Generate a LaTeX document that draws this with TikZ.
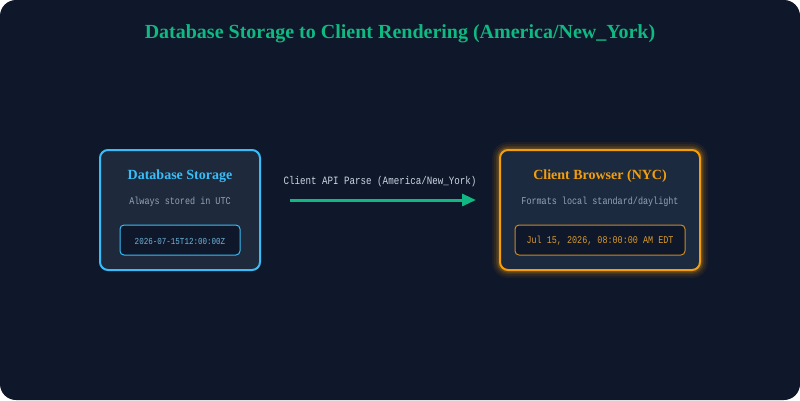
\documentclass[tikz,border=0pt]{standalone}
\usepackage{fontspec}
\setmainfont{Liberation Serif}
\newfontfamily\monof[FakeStretch=0.82]{Liberation Mono}
\usetikzlibrary{arrows.meta}
\definecolor{bgc}{HTML}{0F172A}
\definecolor{cardc}{HTML}{1E293B}
\definecolor{cardr}{HTML}{1C2A3F}
\definecolor{bluec}{HTML}{38BDF8}
\definecolor{orangec}{HTML}{F59E0B}
\definecolor{greenc}{HTML}{10B981}
\definecolor{grayc}{HTML}{94A3B8}
\definecolor{lightc}{HTML}{CBD5E1}
\definecolor{bluetxt}{HTML}{6FB6DC}
\definecolor{ambertxt}{HTML}{D99A2B}
\definecolor{amberbd}{HTML}{C98A24}
\tikzset{
  card/.style={draw, line width=2pt, rounded corners=8pt, inner sep=0pt},
  innerbox/.style={draw, line width=1pt, rounded corners=4pt, fill=bgc, inner sep=0pt, minimum height=30pt},
  cardtitle/.style={font=\fontsize{14}{16}\selectfont\bfseries, inner sep=0pt},
  monotxt/.style={font=\monof\fontsize{10.3}{12}\selectfont, text=grayc, inner sep=0pt},
  flow/.style={draw=greenc, line width=3pt, -{Triangle[length=14pt,width=12pt]}}
}
\begin{document}
\begin{tikzpicture}[x=1pt,y=-1pt]
\useasboundingbox (0,0) rectangle (800,400);
\fill[white] (0,0) rectangle (800,400);
\fill[bgc, rounded corners=16pt] (0,0) rectangle (800,400);
\node[font=\fontsize{20}{24}\selectfont\bfseries, text=greenc, inner sep=0pt] (title) at (400,34) {Database Storage to Client Rendering (America/New\_York)};
% left card
\node[card, draw=bluec, fill=cardc, minimum width=160pt, minimum height=120pt] (db) at (180,210) {};
\node[cardtitle, text=bluec] (dbt) at (180,176) {Database Storage};
\node[monotxt] (dbs) at (180,202) {Always stored in UTC};
\node[innerbox, draw=bluec, minimum width=120pt] (dbi) at (180,240) {};
\node[monotxt, text=bluetxt, font=\monof\fontsize{9.2}{11}\selectfont] (dbv) at (180,241) {2026-07-15T12:00:00Z};
% right card glow
\foreach \w/\o in {16/0.06,12/0.08,8/0.12,5/0.18}{
  \draw[orangec, line width=\w pt, opacity=\o, rounded corners=8pt] (500,150) rectangle (700,270);
}
\node[card, draw=orangec, fill=cardr, minimum width=200pt, minimum height=120pt] (cb) at (600,210) {};
\node[cardtitle, text=orangec] (cbt) at (600,176) {Client Browser (NYC)};
\node[monotxt] (cbs) at (600,202) {Formats local standard/daylight};
\node[innerbox, draw=amberbd, minimum width=170pt] (cbi) at (600,240) {};
\node[monotxt, text=ambertxt, font=\monof\fontsize{10.3}{12}\selectfont] (cbv) at (600,241) {Jul 15, 2026, 08:00:00 AM EDT};
% arrow
\coordinate (a1) at (290,200);
\coordinate (a2) at (476,200);
\draw[flow] (a1) -- (a2);
\node[font=\monof\fontsize{11.2}{13}\selectfont, text=lightc, inner sep=0pt] (lbl) at (380,182) {Client API Parse (America/New\_York)};
\end{tikzpicture}
\end{document}
